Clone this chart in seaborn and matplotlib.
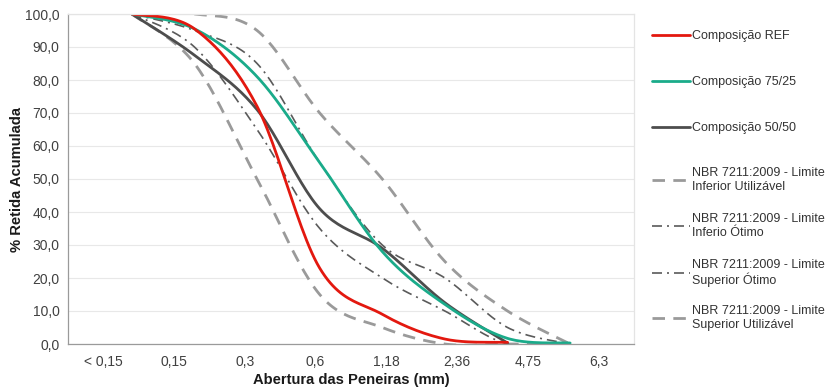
import numpy as np
import seaborn as sns
from matplotlib import pyplot as plt
from matplotlib.lines import Line2D

# sieve openings (category labels of the x axis)
peneiras = ["< 0,15", "0,15", "0,3", "0,6", "1,18", "2,36", "4,75", "6,3"]

# % retida acumulada, one value per sieve point (nan = curve stops)
comp_ref = [100, 95.5, 72, 23, 9, 1.5, 0.5, np.nan]
comp_75_25 = [100, 95.5, 81, 55, 28, 12, 1.7, 0.3]
comp_50_50 = [100, 87.5, 71, 41, 29, 12.5, 0.3, np.nan]
lim_inf_util = [100, 85, 50, 15, 5, 0, 0, 0]
lim_inf_otimo = [100, 90, 65, 35, 20, 10, 0, 0]
lim_sup_otimo = [100, 95, 85, 55, 30, 20, 5, 0]
lim_sup_util = [100, 100, 95, 70, 50, 25, 10, 0]

labels = ["Composição REF", "Composição 75/25", "Composição 50/50",
          "NBR 7211:2009 - Limite\nInferior Utilizável",
          "NBR 7211:2009 - Limite\nInferio Ótimo",
          "NBR 7211:2009 - Limite\nSuperior Ótimo",
          "NBR 7211:2009 - Limite\nSuperior Utilizável"]


def smooth(y, n=25):
    # excel-like smoothed line (bezier through the points)
    y = np.asarray(y, dtype=float)
    x = np.arange(len(y), dtype=float)
    ok = ~np.isnan(y)
    p = np.column_stack([x[ok], y[ok]])
    out = []
    t = np.linspace(0, 1, n)[:, None]
    for i in range(len(p) - 1):
        p0 = p[i - 1] if i > 0 else p[i]
        p1, p2 = p[i], p[i + 1]
        p3 = p[i + 2] if i + 2 < len(p) else p[i + 1]
        c1 = p1 + (p2 - p0) / 6
        c2 = p2 - (p3 - p1) / 6
        seg = ((1 - t) ** 3) * p1 + 3 * ((1 - t) ** 2) * t * c1 + 3 * (1 - t) * t ** 2 * c2 + t ** 3 * p2
        out.append(seg if i == 0 else seg[1:])
    s = np.vstack(out)
    return s[:, 0], s[:, 1]


sns.set_theme(style="white")
plt.rcParams['font.family'] = ['Liberation Sans', 'DejaVu Sans']

fig = plt.figure(figsize=(8.36, 3.89), dpi=100)
ax = fig.add_axes([68 / 836, 45 / 389, 566 / 836, 330 / 389])

dash_style = dict(color="#9a9a9a", lw=2.0, dashes=(4.5, 3.0))
dashdot_style = dict(color="#5a5a5a", lw=1.2, dashes=(6, 3, 1.2, 3))

series = [
    (lim_inf_util, dash_style),
    (lim_inf_otimo, dashdot_style),
    (lim_sup_otimo, dashdot_style),
    (lim_sup_util, dash_style),
]
for vals, st in series:
    xs, ys = smooth(vals)
    sns.lineplot(x=xs, y=ys, ax=ax, sort=False, estimator=None, **st)

comps = [(comp_50_50, "#4d4d4d"), (comp_75_25, "#1aab8a"), (comp_ref, "#e3180f")]
for vals, c in comps:
    xs, ys = smooth(vals)
    sns.lineplot(x=xs, y=ys, ax=ax, sort=False, estimator=None, color=c, lw=2.0)

ax.set_ylim(0, 100)
ax.set_xlim(-1.02, 8.02)
ax.set_yticks(np.arange(0, 101, 10))
ax.set_yticklabels([f"{v:.1f}".replace(".", ",") for v in np.arange(0, 101, 10)])
bounds = np.linspace(-1.02, 8.02, len(peneiras) + 1)
centers = (bounds[:-1] + bounds[1:]) / 2
ax.set_xticks(bounds)
ax.set_xticklabels([""] * len(bounds))
ax.set_xticks(centers, minor=True)
ax.set_xticklabels(peneiras, minor=True)
ax.tick_params(axis="x", which="major", length=4, width=0.8, color="#999999", direction="out")
ax.tick_params(axis="x", which="minor", length=0, pad=8, labelsize=10, labelcolor="#404040")
ax.tick_params(axis="y", length=4, width=0.8, color="#999999", direction="out", labelsize=10,
               labelcolor="#404040", pad=2)
ax.grid(axis="y", color="#e8e8e8", lw=0.8)
ax.set_axisbelow(True)
for side in ["left", "bottom"]:
    ax.spines[side].set_color("#9a9a9a")
    ax.spines[side].set_linewidth(0.9)
for side in ["top", "right"]:
    ax.spines[side].set_color("#e4e4e4")
    ax.spines[side].set_linewidth(0.9)

ax.set_xlabel("Abertura das Peneiras (mm)", fontsize=10.6, fontweight="bold", color="#1a1a1a", labelpad=3)
ax.set_ylabel("% Retida Acumulada", fontsize=10.6, fontweight="bold", color="#1a1a1a", labelpad=1)

handles = [Line2D([], [], color="#e3180f", lw=2.0),
           Line2D([], [], color="#1aab8a", lw=2.0),
           Line2D([], [], color="#4d4d4d", lw=2.0),
           Line2D([], [], **dash_style),
           Line2D([], [], **dashdot_style),
           Line2D([], [], **dashdot_style),
           Line2D([], [], **dash_style)]
ys_leg = [36, 82, 128, 180, 226, 273, 318]
for h, lab, yp in zip(handles, labels, ys_leg):
    fig.legend([h], [lab], loc="center left", bbox_to_anchor=(652 / 836, 1 - yp / 389),
               frameon=False, fontsize=9, handlelength=3.0, handletextpad=0.2,
               labelcolor="#333333", borderpad=0, borderaxespad=0)

plt.savefig("out.png", dpi=100)
plt.close()
